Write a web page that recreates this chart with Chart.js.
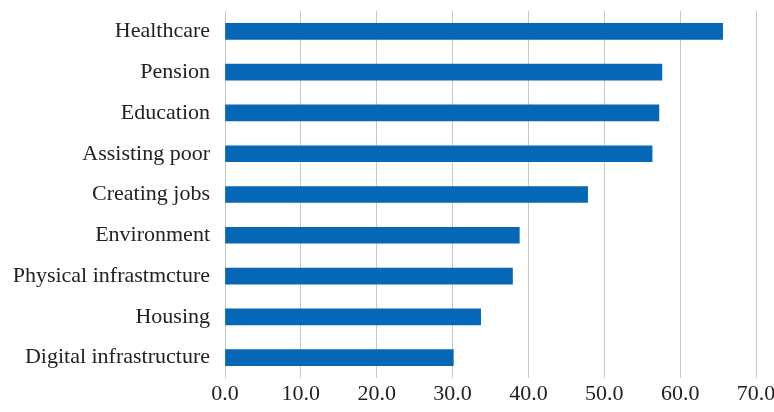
<!DOCTYPE html>
<html>
<head>
<meta charset="utf-8">
<script src="https://cdn.jsdelivr.net/npm/chart.js@4"></script>
<style>
  html, body { margin: 0; padding: 0; background: #fff; }
  #wrap { width: 774px; height: 412px; }
</style>
</head>
<body>
<div id="wrap"><canvas id="chart" width="774" height="412"></canvas></div>
<script>
// categories, top to bottom
const categories = [
  'Healthcare',
  'Pension',
  'Education',
  'Assisting poor',
  'Creating jobs',
  'Environment',
  'Physical infrastmcture',
  'Housing',
  'Digital infrastructure'
];

const values = [65.6, 57.6, 57.2, 56.3, 47.8, 38.8, 37.9, 33.7, 30.1];

const xTicks = [0, 10, 20, 30, 40, 50, 60, 70];

const barColor = '#0767b7';
const fontFamily = '"Liberation Serif", "Times New Roman", serif';

const ctx = document.getElementById('chart');

new Chart(ctx, {
  type: 'bar',
  data: {
    labels: categories,
    datasets: [{
      data: values,
      backgroundColor: barColor,
      borderWidth: 0,
      barThickness: 16
    }]
  },
  options: {
    indexAxis: 'y',
    responsive: false,
    animation: false,
    layout: {
      padding: { top: 11, right: 18, bottom: 0, left: 0 }
    },
    scales: {
      x: {
        min: 0,
        max: 70,
        afterBuildTicks: function(scale) {
          scale.ticks = xTicks.map(v => ({ value: v }));
        },
        afterFit: function(scale) {
          scale.height = 34;
          scale.paddingLeft = 0;
          scale.paddingRight = 0;
        },
        grid: {
          color: '#c8c8c8',
          lineWidth: 1,
          drawTicks: false
        },
        border: { display: false },
        ticks: {
          padding: 3,
          color: '#222',
          font: { family: fontFamily, size: 22 },
          maxRotation: 0,
          callback: function(value) {
            return Number(value).toFixed(1);
          }
        }
      },
      y: {
        afterFit: function(scale) {
          scale.width = 225;
          scale.paddingTop = 0;
          scale.paddingBottom = 0;
        },
        grid: { display: false, drawTicks: false },
        border: { display: false },
        ticks: {
          padding: 15,
          color: '#222',
          font: { family: fontFamily, size: 22 }
        }
      }
    },
    plugins: {
      legend: { display: false },
      tooltip: { enabled: false }
    }
  }
});
</script>
</body>
</html>
